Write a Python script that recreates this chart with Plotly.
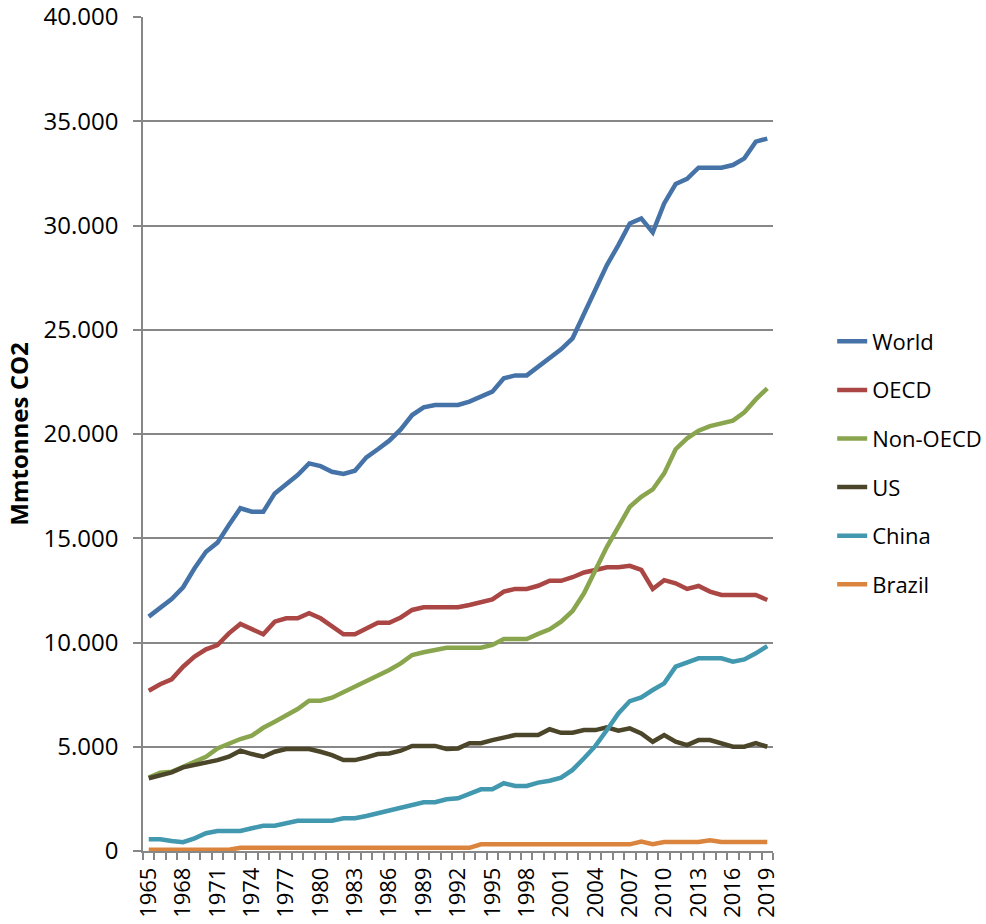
import plotly.graph_objects as go

years = list(range(1965, 2020))

world = [11240, 11690, 12080, 12650, 13560, 14350, 14790, 15640, 16440, 16270,
         16270, 17150, 17600, 18030, 18590, 18460, 18190, 18080, 18240, 18880,
         19270, 19680, 20220, 20910, 21280, 21390, 21390, 21390, 21550, 21790,
         22030, 22670, 22810, 22810, 23230, 23660, 24060, 24590, 25790, 26990,
         28100, 29060, 30100, 30340, 29670, 31060, 31990, 32240, 32770, 32770,
         32770, 32900, 33220, 34020, 34170]
oecd = [7690, 7995, 8235, 8840, 9320, 9670, 9880, 10440, 10890, 10630,
        10390, 11000, 11160, 11160, 11400, 11160, 10760, 10390, 10390, 10680,
        10950, 10950, 11200, 11560, 11690, 11690, 11690, 11690, 11800, 11930,
        12070, 12440, 12570, 12570, 12720, 12960, 12960, 13130, 13360, 13480,
        13610, 13610, 13680, 13480, 12570, 12990, 12840, 12570, 12710, 12440,
        12280, 12280, 12280, 12280, 12040]
non_oecd = [3520, 3760, 3800, 4040, 4250, 4520, 4920, 5170, 5370, 5530,
            5910, 6200, 6520, 6810, 7210, 7210, 7350, 7610, 7850, 8120,
            8390, 8680, 9000, 9400, 9530, 9640, 9750, 9750, 9750, 9750,
            9880, 10170, 10170, 10170, 10410, 10630, 11000, 11510, 12360, 13480,
            14590, 15550, 16510, 16990, 17340, 18110, 19270, 19790, 20160, 20380,
            20510, 20640, 21040, 21660, 22190]
us = [3490, 3650, 3770, 4010, 4120, 4240, 4360, 4520, 4810, 4650,
      4520, 4760, 4890, 4890, 4890, 4760, 4600, 4360, 4360, 4490,
      4650, 4680, 4810, 5040, 5040, 5040, 4890, 4920, 5170, 5170,
      5320, 5450, 5560, 5560, 5560, 5840, 5670, 5670, 5800, 5800,
      5930, 5770, 5880, 5640, 5240, 5560, 5240, 5080, 5320, 5320,
      5170, 5000, 5000, 5170, 5000]
china = [560, 560, 480, 420, 610, 850, 960, 960, 960, 1090,
         1210, 1210, 1330, 1450, 1450, 1450, 1450, 1570, 1570, 1680,
         1810, 1970, 2100, 2210, 2340, 2340, 2480, 2530, 2730, 2960,
         2960, 3250, 3120, 3120, 3280, 3370, 3520, 3890, 4450, 5040,
         5800, 6600, 7190, 7370, 7720, 8040, 8840, 9030, 9240, 9240,
         9240, 9080, 9190, 9480, 9830]
brazil = [60] * 8 + [150] * 21 + [320] * 14 + [450, 330] + [430] * 4 + [520] + [430] * 5

series = [
    ("World", world, "#4572A7"),
    ("OECD", oecd, "#AA4643"),
    ("Non-OECD", non_oecd, "#89A54E"),
    ("US", us, "#4B4529"),
    ("China", china, "#4198AF"),
    ("Brazil", brazil, "#DB843D"),
]

tick_years = years[::3]
font_family = "Open Sans, DejaVu Sans, sans-serif"
grid_color = "#878787"
fs = 24

fig = go.Figure()
for name, values, color in series:
    fig.add_trace(go.Scatter(
        x=years, y=values, name=name, mode="lines",
        legendgroup=name,
        line=dict(color=color, width=4.5),
    ))

fig.update_layout(
    width=986, height=924,
    margin=dict(l=143, r=213, t=17, b=73, autoexpand=False),
    paper_bgcolor="white", plot_bgcolor="white",
    separators=",.",
    font=dict(family=font_family, size=fs, color="#000000"),
    showlegend=True,
    legend=dict(
        xref="container", yref="container",
        x=0.844, y=1 - 463 / 924, xanchor="left", yanchor="middle",
        font=dict(size=22),
        tracegroupgap=17,
        bgcolor="rgba(0,0,0,0)",
    ),
    xaxis=dict(
        range=[1964.5, 2019.5], automargin=False,
        tickmode="array", tickvals=tick_years,
        ticktext=[str(y) for y in tick_years],
        tickangle=-90, ticks="", showgrid=False,
        showline=True, linecolor=grid_color, linewidth=1.5,
        tickfont=dict(size=22),
        ticklabelstandoff=6,
        ticklabeloverflow="allow",
        zeroline=False,
        minor=dict(ticks="outside", tick0=1964.5, dtick=1, ticklen=7,
                   tickcolor=grid_color, tickwidth=1.5, showgrid=False),
    ),
    yaxis=dict(
        range=[0, 40000], dtick=5000, tickformat=",d", automargin=False,
        showgrid=True, gridcolor=grid_color, gridwidth=1.5,
        showline=True, linecolor=grid_color, linewidth=1.5,
        ticks="outside", ticklen=8, tickcolor=grid_color, tickwidth=1.5,
        ticklabelstandoff=10,
        ticklabeloverflow="allow",
        zeroline=False,
        tickfont=dict(size=fs),
        title=dict(text="<b>Mmtonnes CO2</b>", font=dict(size=fs), standoff=8),
    ),
)

fig.write_html("out.html")
